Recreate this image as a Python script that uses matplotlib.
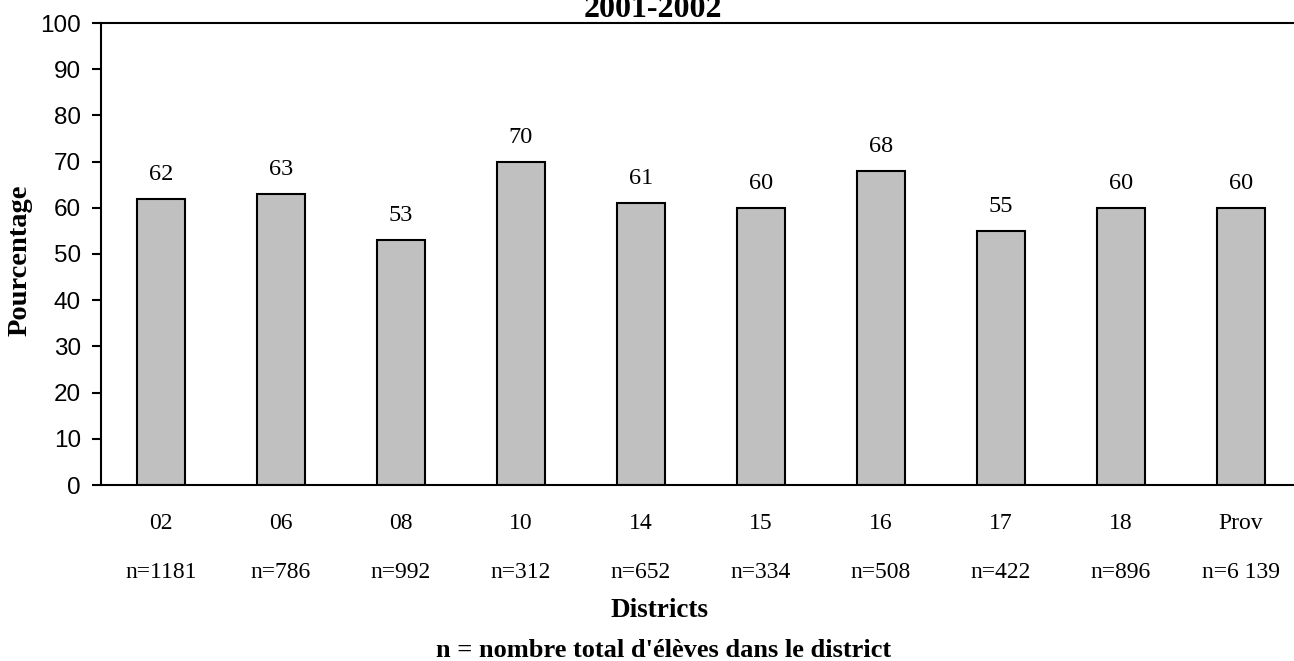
import matplotlib.pyplot as plt

# données
districts = ['02', '06', '08', '10', '14', '15', '16', '17', '18', 'Prov']
effectifs = ['n=1181', 'n=786', 'n=992', 'n=312', 'n=652', 'n=334',
             'n=508', 'n=422', 'n=896', 'n=6 139']
pourcentages = [62, 63, 53, 70, 61, 60, 68, 55, 60, 60]

serif = 'Liberation Serif'
sans = 'Liberation Sans'

fig = plt.figure(figsize=(12.94, 6.61), dpi=100)
ax = fig.add_axes([101 / 1294, 176 / 661, 1200 / 1294, 462 / 661])

x = list(range(len(districts)))
bars = ax.bar(x, pourcentages, width=0.4, color='#C0C0C0',
              edgecolor='black', linewidth=1.5)

for xi, v in zip(x, pourcentages):
    ax.annotate(str(v), (xi, v), xytext=(0, 13.5), textcoords='offset points',
                ha='center', va='baseline', family=serif, fontsize=17.5)

ax.set_xlim(-0.5, 9.5)
ax.set_ylim(0, 100)
ax.set_yticks(range(0, 101, 10))
ax.set_xticks(x)
ax.set_xticklabels(districts, family=serif, fontsize=17)
ax.tick_params(axis='x', length=0, pad=20)
ax.tick_params(axis='y', length=6.5, width=1.5, pad=8, labelsize=17.5)
for lab in ax.get_yticklabels():
    lab.set_family(sans)

# ligne des effectifs sous les districts
trans = ax.get_xaxis_transform()
for xi, n in zip(x, effectifs):
    ax.text(xi, -87 / 462, n, transform=trans, ha='center', va='center',
            family=serif, fontsize=17)

for s in ['left', 'top', 'bottom']:
    ax.spines[s].set_linewidth(1.5)
ax.spines['right'].set_visible(False)

fig.text(20 / 1294, 1 - 260 / 661, 'Pourcentage', rotation=90, ha='center',
         va='center', family=serif, fontweight='bold', fontsize=20.5)
# le titre est rogné en haut dans l'original
fig.text(653 / 1294, 1 - 17 / 661, '2001-2002', ha='center', va='baseline',
         family=serif, fontweight='bold', fontsize=23)
fig.text(660 / 1294, 1 - 617 / 661, 'Districts', ha='center', va='baseline',
         family=serif, fontweight='bold', fontsize=19.5)
fig.text(664 / 1294, 1 - 657 / 661, "n = nombre total d'élèves dans le district",
         ha='center', va='baseline', family=serif, fontweight='bold', fontsize=19)

fig.savefig('out.png', dpi=100)
